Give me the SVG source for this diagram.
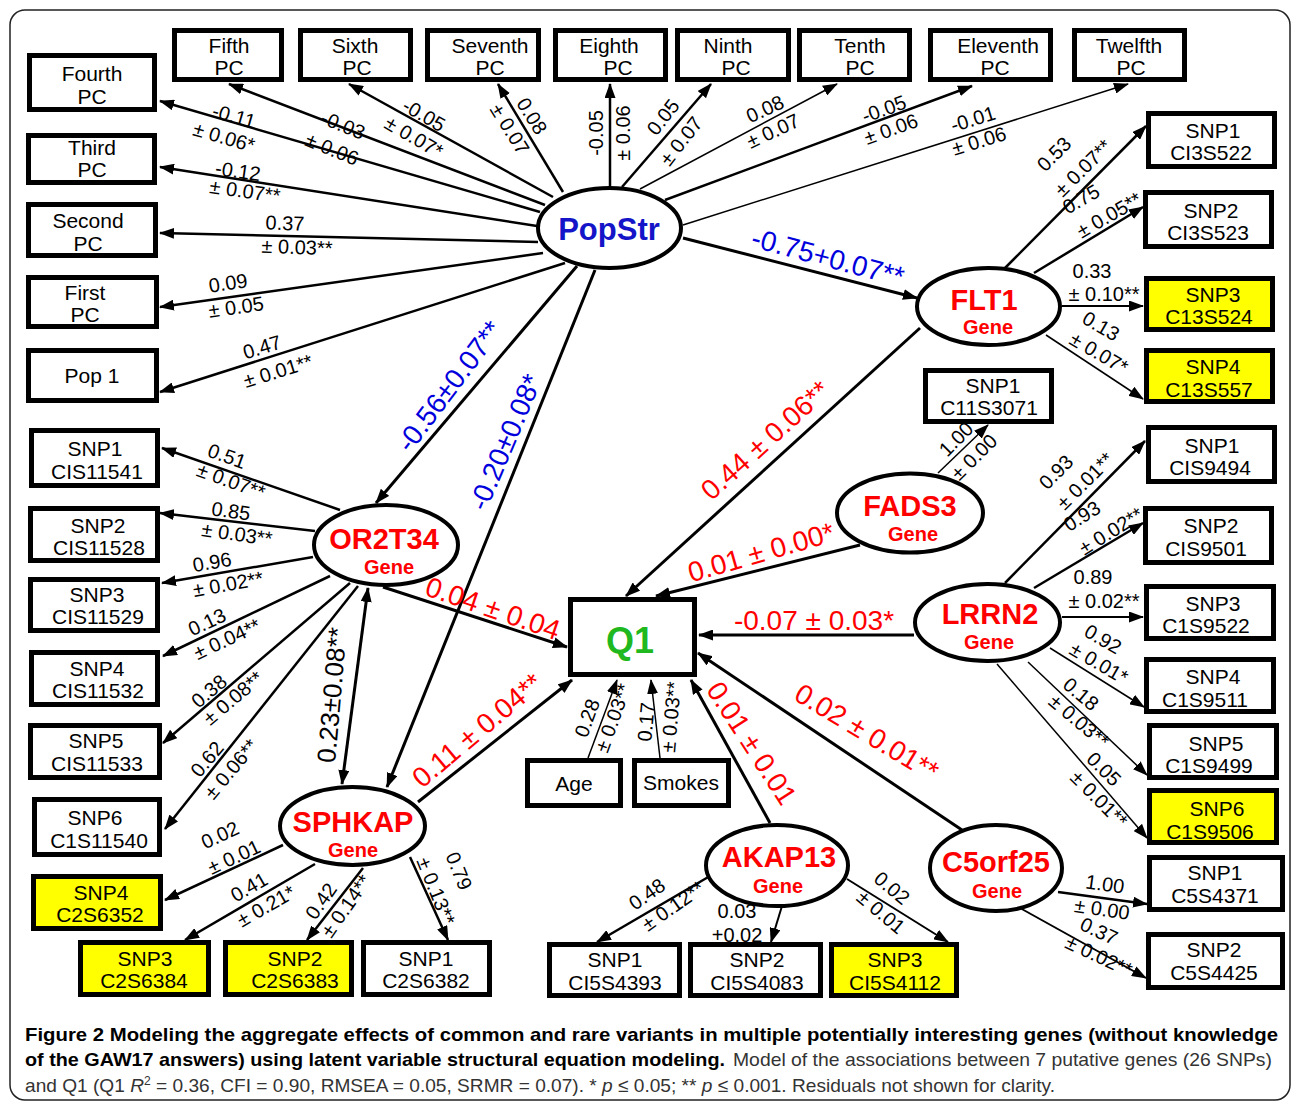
<svg xmlns="http://www.w3.org/2000/svg" width="1292" height="1103" viewBox="0 0 1292 1103">
<defs>
<marker id="ah" viewBox="0 0 15 11" refX="14" refY="5.5" markerWidth="15" markerHeight="11" markerUnits="userSpaceOnUse" orient="auto-start-reverse"><path d="M0,0 L15,5.5 L0,11 z" fill="#000"/></marker>
</defs>
<style>
text{font-family:"Liberation Sans",Arial,sans-serif}
.box{fill:#fff;stroke:#000;stroke-width:5}
.yb{fill:#ffff00;stroke:#000;stroke-width:5}
.ell{fill:#fff;stroke:#000;stroke-width:4}
.bt{font-size:21px;fill:#000;text-anchor:middle}
.gn{font-size:29px;font-weight:bold;fill:#ff0000;text-anchor:middle}
.gs{font-size:20px;font-weight:bold;fill:#ff0000;text-anchor:middle}
.e{stroke:#000;stroke-width:2.5;fill:none;marker-end:url(#ah)}
.t{stroke-width:1.5}
.k{stroke-width:3}
.l{font-size:20px;fill:#000;text-anchor:middle}
.cr{font-size:28px;fill:#ff0000;text-anchor:middle}
.cb{font-size:28px;fill:#0000dd;text-anchor:middle}
.cap{font-size:19px;fill:#000}
.capr{font-size:19px;fill:#333}
</style>
<rect x="10" y="10" width="1280" height="1090" rx="15" fill="#fff" stroke="#222" stroke-width="1.5"/>

<g id="connectors">
<path class="e" d="M540,212 L160,101"/>
<path class="e" d="M545,205 L229,84"/>
<path class="e" d="M553,197 L349,84"/>
<path class="e" d="M563,192 L498,84"/>
<path class="e" d="M610,186 L610,84"/>
<path class="e" d="M622,187 L711,84"/>
<path class="e t" d="M640,189 L837,84"/>
<path class="e" d="M665,200 L972,86"/>
<path class="e t" d="M683,225 L1128,84"/>
<path class="e" d="M537,226 L160,167"/>
<path class="e" d="M538,242 L160,233"/>
<path class="e" d="M543,253 L160,307"/>
<path class="e" d="M565,263 L160,392"/>
<path class="e k" d="M683,238 L917,298"/>
<path class="e k" d="M577,266 L376,503"/>
<path class="e k" d="M595,270 L387,787"/>
<path class="e k" d="M920,328 L626,596"/>
<path class="e k" d="M860,545 L656,596"/>
<path class="e k" d="M383,587 L567,647"/>
<path class="e k" d="M418,802 L572,680"/>
<path class="e k" d="M914,635 L699,635"/>
<path class="e k" d="M962,830 L698,653"/>
<path class="e k" d="M770,823 L691,680"/>
<path class="e t" d="M588,758 L617,680"/>
<path class="e t" d="M660,758 L651,680"/>
<path class="e k" d="M368,588 L342,784" marker-start="url(#ah)"/>
<path class="e" d="M340,510 L162,448"/>
<path class="e" d="M315,531 L160,513"/>
<path class="e" d="M313,557 L162,583"/>
<path class="e" d="M330,576 L163,656"/>
<path class="e" d="M350,583 L163,743"/>
<path class="e" d="M358,586 L165,829"/>
<path class="e" d="M283,845 L165,900"/>
<path class="e" d="M315,864 L185,940"/>
<path class="e" d="M363,868 L307,940"/>
<path class="e" d="M410,857 L448,940"/>
<path class="e" d="M1005,268 L1146,126"/>
<path class="e" d="M1034,273 L1143,207"/>
<path class="e" style="stroke-width:2" d="M1062,306 L1143,306"/>
<path class="e t" d="M1046,335 L1143,399"/>
<path class="e t" d="M938,473 L988,425"/>
<path class="e" d="M1005,583 L1145,441"/>
<path class="e" d="M1034,588 L1143,523"/>
<path class="e" style="stroke-width:2" d="M1062,617 L1143,617"/>
<path class="e t" d="M1050,648 L1144,707"/>
<path class="e t" d="M1028,662 L1147,775"/>
<path class="e t" d="M997,664 L1147,838"/>
<path class="e" d="M710,876 L597,942"/>
<path class="e" style="stroke-width:2" d="M782,906 L771,942"/>
<path class="e" style="stroke-width:2" d="M847,879 L948,942"/>
<path class="e" d="M1058,892 L1147,904"/>
<path class="e" style="stroke-width:2" d="M1020,908 L1146,978"/>
</g>

<g id="edge-labels">
<text class="l" transform="translate(234,116) rotate(16)" y="7">-0.11</text>
<text class="l" transform="translate(224,137) rotate(16)" y="7">± 0.06*</text>
<text class="l" transform="translate(343,125) rotate(22)" y="7">-0.03</text>
<text class="l" transform="translate(332,149) rotate(22)" y="7">± 0.06</text>
<text class="l" transform="translate(424,115) rotate(30)" y="7">-0.05</text>
<text class="l" transform="translate(414,137) rotate(30)" y="7">± 0.07*</text>
<text class="l" transform="translate(532,116) rotate(58)" y="7">0.08</text>
<text class="l" transform="translate(510,129) rotate(58)" y="7">± 0.07</text>
<text class="l" transform="translate(596,133) rotate(-90)" y="7">-0.05</text>
<text class="l" transform="translate(623,133) rotate(-90)" y="7">± 0.06</text>
<text class="l" transform="translate(663,117) rotate(-52)" y="7">0.05</text>
<text class="l" transform="translate(681,141) rotate(-52)" y="7">± 0.07</text>
<text class="l" transform="translate(765,109) rotate(-25)" y="7">0.08</text>
<text class="l" transform="translate(773,131) rotate(-25)" y="7">± 0.07</text>
<text class="l" transform="translate(884,109) rotate(-20)" y="7">-0.05</text>
<text class="l" transform="translate(891,129) rotate(-20)" y="7">± 0.06</text>
<text class="l" transform="translate(973,119) rotate(-17)" y="7">-0.01</text>
<text class="l" transform="translate(979,141) rotate(-17)" y="7">± 0.06</text>
<text class="l" transform="translate(238,171) rotate(8)" y="7">-0.12</text>
<text class="l" transform="translate(245,191) rotate(8)" y="7">± 0.07**</text>
<text class="l" transform="translate(285,223) rotate(2)" y="7">0.37</text>
<text class="l" transform="translate(297,247) rotate(2)" y="7">± 0.03**</text>
<text class="l" transform="translate(228,283) rotate(-8)" y="7">0.09</text>
<text class="l" transform="translate(236,307) rotate(-8)" y="7">± 0.05</text>
<text class="l" transform="translate(262,347) rotate(-17)" y="7">0.47</text>
<text class="l" transform="translate(278,371) rotate(-17)" y="7">± 0.01**</text>

<text class="l" transform="translate(1054,154) rotate(-45)" y="7">0.53</text>
<text class="l" transform="translate(1083,168) rotate(-45)" y="7">± 0.07**</text>
<text class="l" transform="translate(1081,199) rotate(-30)" y="7">0.75</text>
<text class="l" transform="translate(1109,215) rotate(-30)" y="7">± 0.05**</text>
<text class="l" transform="translate(1092,271)" y="7">0.33</text>
<text class="l" transform="translate(1104,294)" y="7">± 0.10**</text>
<text class="l" transform="translate(1101,326) rotate(30)" y="7">0.13</text>
<text class="l" transform="translate(1099,353) rotate(30)" y="7">± 0.07*</text>
<text class="l" transform="translate(956,439) rotate(-45)" y="7">1.00</text>
<text class="l" transform="translate(974,457) rotate(-45)" y="7">± 0.00</text>
<text class="l" transform="translate(1056,472) rotate(-45)" y="7">0.93</text>
<text class="l" transform="translate(1085,481) rotate(-45)" y="7">± 0.01**</text>
<text class="l" transform="translate(1082,516) rotate(-32)" y="7">0.93</text>
<text class="l" transform="translate(1111,531) rotate(-32)" y="7">± 0.02**</text>
<text class="l" transform="translate(1093,577)" y="7">0.89</text>
<text class="l" transform="translate(1104,601)" y="7">± 0.02**</text>
<text class="l" transform="translate(1103,639) rotate(30)" y="7">0.92</text>
<text class="l" transform="translate(1099,663) rotate(30)" y="7">± 0.01*</text>
<text class="l" transform="translate(1081,694) rotate(40)" y="7">0.18</text>
<text class="l" transform="translate(1079,721) rotate(40)" y="7">± 0.03**</text>
<text class="l" transform="translate(1104,769) rotate(45)" y="7">0.05</text>
<text class="l" transform="translate(1099,799) rotate(45)" y="7">± 0.01**</text>

<text class="l" transform="translate(227,456) rotate(20)" y="7">0.51</text>
<text class="l" transform="translate(231,481) rotate(20)" y="7">± 0.07**</text>
<text class="l" transform="translate(231,511) rotate(8)" y="7">0.85</text>
<text class="l" transform="translate(237,534) rotate(8)" y="7">± 0.03**</text>
<text class="l" transform="translate(212,562) rotate(-10)" y="7">0.96</text>
<text class="l" transform="translate(228,584) rotate(-10)" y="7">± 0.02**</text>
<text class="l" transform="translate(207,622) rotate(-25)" y="7">0.13</text>
<text class="l" transform="translate(227,639) rotate(-25)" y="7">± 0.04**</text>
<text class="l" transform="translate(209,691) rotate(-40)" y="7">0.38</text>
<text class="l" transform="translate(233,698) rotate(-40)" y="7">± 0.08**</text>
<text class="l" transform="translate(207,759) rotate(-50)" y="7">0.62</text>
<text class="l" transform="translate(231,769) rotate(-50)" y="7">± 0.06**</text>

<text class="l" transform="translate(220,835) rotate(-25)" y="7">0.02</text>
<text class="l" transform="translate(234,857) rotate(-25)" y="7">± 0.01</text>
<text class="l" transform="translate(249,887) rotate(-30)" y="7">0.41</text>
<text class="l" transform="translate(266,906) rotate(-30)" y="7">± 0.21*</text>
<text class="l" transform="translate(321,901) rotate(-55)" y="7">0.42</text>
<text class="l" transform="translate(346,906) rotate(-55)" y="7">± 0.14**</text>
<text class="l" transform="translate(459,871) rotate(68)" y="7">0.79</text>
<text class="l" transform="translate(436,891) rotate(68)" y="7">± 0.13**</text>

<text class="l" transform="translate(587,718) rotate(-70)" y="7">0.28</text>
<text class="l" transform="translate(613,718) rotate(-70)" y="7">± 0.03**</text>
<text class="l" transform="translate(646,722) rotate(-85)" y="7">0.17</text>
<text class="l" transform="translate(671,717) rotate(-85)" y="7">± 0.03**</text>

<text class="l" transform="translate(647,894) rotate(-35)" y="7">0.48</text>
<text class="l" transform="translate(673,906) rotate(-35)" y="7">± 0.12**</text>
<text class="l" transform="translate(737,911)" y="7">0.03</text>
<text class="l" transform="translate(737,935)" y="7">+0.02</text>
<text class="l" transform="translate(892,888) rotate(40)" y="7">0.02</text>
<text class="l" transform="translate(881,912) rotate(40)" y="7">± 0.01</text>
<text class="l" transform="translate(1105,884) rotate(8)" y="7">1.00</text>
<text class="l" transform="translate(1102,909) rotate(8)" y="7">± 0.00</text>
<text class="l" transform="translate(1099,931) rotate(25)" y="7">0.37</text>
<text class="l" transform="translate(1099,956) rotate(25)" y="7">± 0.02**</text>

<text class="cb" transform="translate(828,257) rotate(15)" y="10">-0.75+0.07**</text>
<text class="cb" transform="translate(449,386) rotate(-53)" y="10">-0.56±0.07**</text>
<text class="cb" transform="translate(505,442) rotate(-67)" y="10">-0.20±0.08*</text>
<text class="cr" transform="translate(765,440) rotate(-42)" y="10">0.44 ± 0.06**</text>
<text class="cr" transform="translate(761,552) rotate(-16)" y="10">0.01 ± 0.00*</text>
<text class="cr" transform="translate(493,608) rotate(19)" y="10">0.04 ± 0.04</text>
<text class="cr" transform="translate(814,620)" y="10">-0.07 ± 0.03*</text>
<text class="cr" transform="translate(477,730) rotate(-40)" y="10">0.11 ± 0.04**</text>
<text class="cr" transform="translate(752,743) rotate(57)" y="10">0.01 ± 0.01</text>
<text class="cr" transform="translate(867,732) rotate(31)" y="10">0.02 ± 0.01**</text>
<text class="l" style="font-size:26px" transform="translate(332,695) rotate(-85)" y="9">0.23±0.08**</text>
</g>

<g id="n-fourth"><rect class="box" x="29.5" y="55.5" width="125" height="54"/><text class="bt" x="92" y="81">Fourth</text><text class="bt" x="92" y="104">PC</text></g>
<g id="n-third"><rect class="box" x="28.5" y="135.5" width="126" height="47"/><text class="bt" x="92" y="155">Third</text><text class="bt" x="92" y="177">PC</text></g>
<g id="n-second"><rect class="box" x="28.5" y="204.5" width="127" height="51"/><text class="bt" x="88" y="228">Second</text><text class="bt" x="88" y="251">PC</text></g>
<g id="n-first"><rect class="box" x="28.5" y="277.5" width="128" height="49"/><text class="bt" x="85" y="300">First</text><text class="bt" x="85" y="322">PC</text></g>
<g id="n-pop1"><rect class="box" x="28.5" y="350.5" width="128" height="50"/><text class="bt" x="92" y="383">Pop 1</text></g>
<g id="n-fifth"><rect class="box" x="174.5" y="30.5" width="107" height="49"/><text class="bt" x="229" y="53">Fifth</text><text class="bt" x="229" y="75">PC</text></g>
<g id="n-sixth"><rect class="box" x="300.5" y="30.5" width="110" height="49"/><text class="bt" x="355" y="53">Sixth</text><text class="bt" x="357" y="75">PC</text></g>
<g id="n-seventh"><rect class="box" x="427.5" y="30.5" width="111" height="49"/><text class="bt" x="490" y="53">Seventh</text><text class="bt" x="490" y="75">PC</text></g>
<g id="n-eighth"><rect class="box" x="555.5" y="30.5" width="110" height="49"/><text class="bt" x="609" y="53">Eighth</text><text class="bt" x="618" y="75">PC</text></g>
<g id="n-ninth"><rect class="box" x="677.5" y="30.5" width="111" height="49"/><text class="bt" x="728" y="53">Ninth</text><text class="bt" x="736" y="75">PC</text></g>
<g id="n-tenth"><rect class="box" x="799.5" y="30.5" width="110" height="49"/><text class="bt" x="860" y="53">Tenth</text><text class="bt" x="860" y="75">PC</text></g>
<g id="n-eleventh"><rect class="box" x="930.5" y="30.5" width="120" height="49"/><text class="bt" x="998" y="53">Eleventh</text><text class="bt" x="995" y="75">PC</text></g>
<g id="n-twelfth"><rect class="box" x="1074.5" y="30.5" width="110" height="49"/><text class="bt" x="1129" y="53">Twelfth</text><text class="bt" x="1131" y="75">PC</text></g>

<g id="n-or-snp1"><rect class="box" x="31.5" y="430.5" width="126" height="55"/><text class="bt" x="95" y="456">SNP1</text><text class="bt" x="97" y="479">CIS11541</text></g>
<g id="n-or-snp2"><rect class="box" x="30.5" y="508.5" width="127" height="52"/><text class="bt" x="98" y="533">SNP2</text><text class="bt" x="99" y="555">CIS11528</text></g>
<g id="n-or-snp3"><rect class="box" x="30.5" y="579.5" width="127" height="51"/><text class="bt" x="97" y="602">SNP3</text><text class="bt" x="98" y="624">CIS11529</text></g>
<g id="n-or-snp4"><rect class="box" x="31.5" y="652.5" width="126" height="52"/><text class="bt" x="97" y="676">SNP4</text><text class="bt" x="98" y="698">CIS11532</text></g>
<g id="n-or-snp5"><rect class="box" x="30.5" y="725.5" width="129" height="52"/><text class="bt" x="96" y="748">SNP5</text><text class="bt" x="97" y="771">CIS11533</text></g>
<g id="n-or-snp6"><rect class="box" x="34.5" y="799.5" width="125" height="55"/><text class="bt" x="95" y="825">SNP6</text><text class="bt" x="99" y="848">C1S11540</text></g>
<g id="n-sph-snp4"><rect class="yb" x="33.5" y="876.5" width="127" height="52"/><text class="bt" x="101" y="900">SNP4</text><text class="bt" x="100" y="922">C2S6352</text></g>
<g id="n-sph-snp3"><rect class="yb" x="80.5" y="942.5" width="128" height="52"/><text class="bt" x="145" y="966">SNP3</text><text class="bt" x="144" y="988">C2S6384</text></g>
<g id="n-sph-snp2"><rect class="yb" x="225.5" y="942.5" width="126" height="52"/><text class="bt" x="295" y="966">SNP2</text><text class="bt" x="295" y="988">C2S6383</text></g>
<g id="n-sph-snp1"><rect class="box" x="363.5" y="942.5" width="126" height="52"/><text class="bt" x="426" y="966">SNP1</text><text class="bt" x="426" y="988">C2S6382</text></g>

<g id="n-age"><rect class="box" x="527.5" y="760.5" width="93" height="45"/><text class="bt" x="574" y="791">Age</text></g>
<g id="n-smokes"><rect class="box" x="634.5" y="760.5" width="94" height="45"/><text class="bt" x="681" y="790">Smokes</text></g>
<g id="n-q1"><rect class="box" x="570.5" y="599.5" width="124" height="75"/><text x="630" y="653" style="font-size:36px;font-weight:bold;fill:#1fb81f;text-anchor:middle">Q1</text></g>

<g id="n-ak-snp1"><rect class="box" x="549.5" y="944.5" width="130" height="51"/><text class="bt" x="615" y="967">SNP1</text><text class="bt" x="615" y="990">CI5S4393</text></g>
<g id="n-ak-snp2"><rect class="box" x="690.5" y="944.5" width="130" height="51"/><text class="bt" x="757" y="967">SNP2</text><text class="bt" x="757" y="990">CI5S4083</text></g>
<g id="n-ak-snp3"><rect class="yb" x="831.5" y="944.5" width="125" height="51"/><text class="bt" x="895" y="967">SNP3</text><text class="bt" x="895" y="990">CI5S4112</text></g>
<g id="n-c5-snp1"><rect class="box" x="1149.5" y="857.5" width="133" height="52"/><text class="bt" x="1215" y="880">SNP1</text><text class="bt" x="1215" y="903">C5S4371</text></g>
<g id="n-c5-snp2"><rect class="box" x="1148.5" y="934.5" width="134" height="53"/><text class="bt" x="1214" y="957">SNP2</text><text class="bt" x="1214" y="980">C5S4425</text></g>

<g id="n-flt-snp1"><rect class="box" x="1148.5" y="113.5" width="126" height="53"/><text class="bt" x="1213" y="138">SNP1</text><text class="bt" x="1211" y="160">CI3S522</text></g>
<g id="n-flt-snp2"><rect class="box" x="1145.5" y="192.5" width="126" height="54"/><text class="bt" x="1211" y="218">SNP2</text><text class="bt" x="1208" y="240">CI3S523</text></g>
<g id="n-flt-snp3"><rect class="yb" x="1146.5" y="278.5" width="126" height="51"/><text class="bt" x="1213" y="302">SNP3</text><text class="bt" x="1209" y="324">C13S524</text></g>
<g id="n-flt-snp4"><rect class="yb" x="1146.5" y="350.5" width="126" height="51"/><text class="bt" x="1213" y="374">SNP4</text><text class="bt" x="1209" y="397">C13S557</text></g>
<g id="n-fads-snp1"><rect class="box" x="925.5" y="370.5" width="126" height="51"/><text class="bt" x="993" y="393">SNP1</text><text class="bt" x="989" y="415">C11S3071</text></g>
<g id="n-lr-snp1"><rect class="box" x="1148.5" y="427.5" width="126" height="54"/><text class="bt" x="1212" y="453">SNP1</text><text class="bt" x="1210" y="475">CIS9494</text></g>
<g id="n-lr-snp2"><rect class="box" x="1145.5" y="508.5" width="126" height="54"/><text class="bt" x="1211" y="533">SNP2</text><text class="bt" x="1206" y="556">CIS9501</text></g>
<g id="n-lr-snp3"><rect class="box" x="1146.5" y="586.5" width="127" height="52"/><text class="bt" x="1213" y="611">SNP3</text><text class="bt" x="1206" y="633">C1S9522</text></g>
<g id="n-lr-snp4"><rect class="box" x="1146.5" y="659.5" width="127" height="52"/><text class="bt" x="1213" y="684">SNP4</text><text class="bt" x="1205" y="707">C1S9511</text></g>
<g id="n-lr-snp5"><rect class="box" x="1149.5" y="725.5" width="127" height="52"/><text class="bt" x="1216" y="751">SNP5</text><text class="bt" x="1209" y="773">C1S9499</text></g>
<g id="n-lr-snp6"><rect class="yb" x="1149.5" y="790.5" width="127" height="52"/><text class="bt" x="1217" y="816">SNP6</text><text class="bt" x="1210" y="839">C1S9506</text></g>

<g id="n-popstr"><ellipse class="ell" cx="609.5" cy="228" rx="71.5" ry="40"/><text x="609" y="240" style="font-size:31px;font-weight:bold;fill:#1414c8;text-anchor:middle">PopStr</text></g>
<g id="n-flt1"><ellipse class="ell" cx="988.5" cy="306.5" rx="71.5" ry="38.5"/><text class="gn" x="984" y="310">FLT1</text><text class="gs" x="988" y="334">Gene</text></g>
<g id="n-fads3"><ellipse class="ell" cx="910" cy="513" rx="73" ry="39.5"/><text class="gn" x="910" y="516">FADS3</text><text class="gs" x="913" y="541">Gene</text></g>
<g id="n-lrrn2"><ellipse class="ell" cx="987.5" cy="622.5" rx="72.5" ry="38.5"/><text class="gn" x="990" y="624">LRRN2</text><text class="gs" x="989" y="649">Gene</text></g>
<g id="n-or2t34"><ellipse class="ell" cx="386" cy="545" rx="72" ry="40"/><text class="gn" x="384" y="549">OR2T34</text><text class="gs" x="389" y="574">Gene</text></g>
<g id="n-sphkap"><ellipse class="ell" cx="352.5" cy="826" rx="72.5" ry="39"/><text class="gn" x="353" y="832">SPHKAP</text><text class="gs" x="353" y="857">Gene</text></g>
<g id="n-akap13"><ellipse class="ell" cx="777" cy="865.5" rx="71" ry="40.5"/><text class="gn" x="779" y="867">AKAP13</text><text class="gs" x="778" y="893">Gene</text></g>
<g id="n-c5orf25"><ellipse class="ell" cx="996" cy="868" rx="66" ry="43"/><text class="gn" x="996" y="872">C5orf25</text><text class="gs" x="997" y="898">Gene</text></g>

<g id="caption">
<text class="cap" x="25" y="1041" font-weight="bold" textLength="1253" lengthAdjust="spacingAndGlyphs">Figure 2 Modeling the aggregate effects of common and rare variants in multiple potentially interesting genes (without knowledge</text>
<text class="cap" x="25" y="1066" font-weight="bold" textLength="700" lengthAdjust="spacingAndGlyphs">of the GAW17 answers) using latent variable structural equation modeling.</text>
<text class="capr" x="733" y="1066" textLength="539" lengthAdjust="spacingAndGlyphs">Model of the associations between 7 putative genes (26 SNPs)</text>
<text class="capr" x="25" y="1092" textLength="1030" lengthAdjust="spacingAndGlyphs">and Q1 (Q1 <tspan font-style="italic">R</tspan><tspan dy="-7" font-size="12">2</tspan><tspan dy="7"> = 0.36, CFI = 0.90, RMSEA = 0.05, SRMR = 0.07). * </tspan><tspan font-style="italic">p</tspan> ≤ 0.05; ** <tspan font-style="italic">p</tspan> ≤ 0.001. Residuals not shown for clarity.</text>
</g>
</svg>
